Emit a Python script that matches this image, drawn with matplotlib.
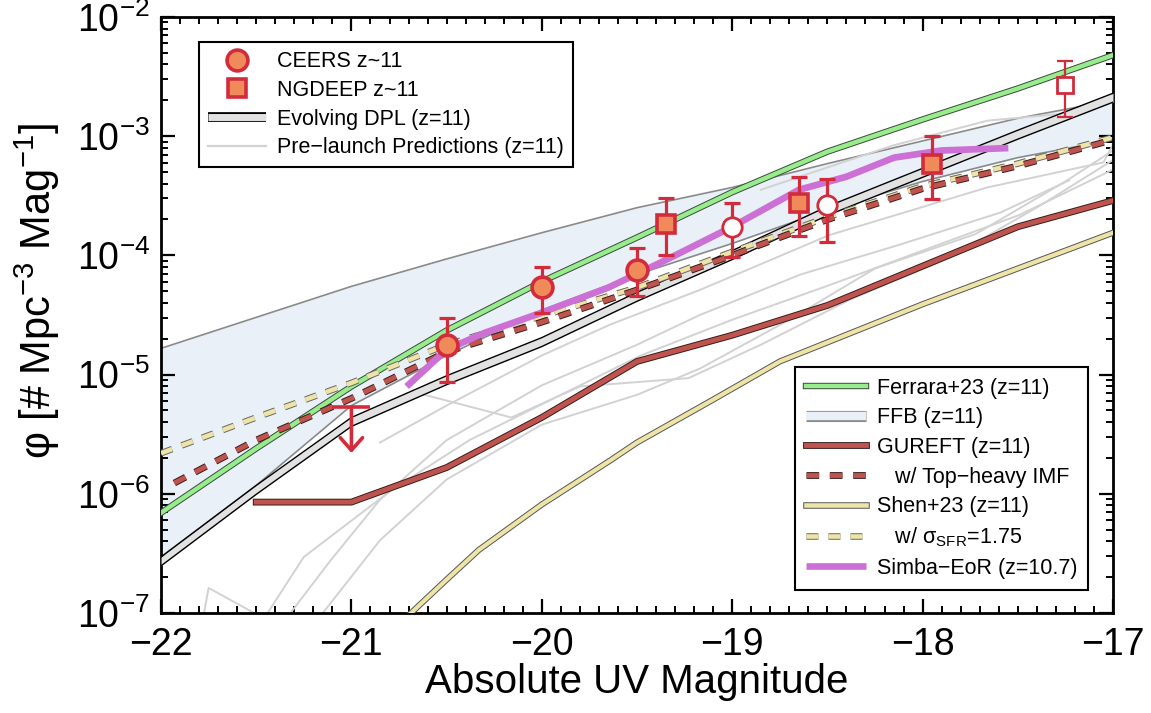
import matplotlib
matplotlib.use("Agg")
import matplotlib.pyplot as plt
import matplotlib.patheffects as pe
from matplotlib.lines import Line2D
from matplotlib.ticker import MultipleLocator, LogLocator
import numpy as np

plt.rcParams["font.family"] = ["Liberation Sans", "DejaVu Sans"]
plt.rcParams["mathtext.fontset"] = "custom"
plt.rcParams["mathtext.rm"] = "Liberation Sans"
plt.rcParams["mathtext.it"] = "Liberation Sans:italic"
plt.rcParams["mathtext.bf"] = "Liberation Sans:bold"

# ---- model curves (M_UV, log10 phi) ----
muv = [-22.0, -21.5, -21.0, -20.5, -20.0, -19.5, -19.0, -18.5, -18.0, -17.5, -17.0]

ferrara = [-6.16, -5.62, -5.10, -4.63, -4.22, -3.85, -3.47, -3.13, -2.86, -2.60, -2.32]
ffb_hi = [-4.78, -4.52, -4.26, -4.03, -3.81, -3.60, -3.43, -3.23, -3.04, -2.85, -2.70]
ffb_lo = [-6.53, -5.93, -5.26, -4.84, -4.46, -4.16, -3.90, -3.62, -3.38, -3.18, -3.03]
dpl_hi = [-6.53, -5.93, -5.36, -5.01, -4.69, -4.31, -3.96, -3.59, -3.27, -2.95, -2.64]
dpl_width = 0.075

gureft_x = [-21.5, -21.0, -20.5, -20.0, -19.5, -19.0, -18.5, -18.0, -17.5, -17.0]
gureft = [-6.07, -6.07, -5.78, -5.36, -4.89, -4.67, -4.42, -4.09, -3.76, -3.54]

gureft_th_x = [-21.93, -21.5, -21.0, -20.5, -20.0, -19.5, -19.0, -18.5, -18.0, -17.5, -17.0]
gureft_th = [-5.91, -5.55, -5.20, -4.81, -4.56, -4.29, -4.00, -3.70, -3.44, -3.25, -3.03]

shen_sig = [-5.66, -5.36, -5.07, -4.75, -4.51, -4.27, -3.97, -3.68, -3.42, -3.23, -3.01]

shen_x = [-20.7, -20.5, -20.33, -20.0, -19.64, -19.5, -19.1, -18.75, -18.5, -18.0, -17.5, -17.0]
shen = [-7.02, -6.72, -6.47, -6.09, -5.72, -5.57, -5.21, -4.89, -4.73, -4.41, -4.11, -3.81]

simba_x = [-20.71, -20.5, -20.3, -20.0, -19.65, -19.35, -19.0, -18.65, -18.4, -18.15, -17.9, -17.55]
simba = [-5.10, -4.79, -4.65, -4.48, -4.27, -4.04, -3.76, -3.45, -3.34, -3.18, -3.12, -3.10]

# pre-launch predictions (light gray)
prelaunch = [
    ([-21.78, -21.75, -21.5], [-7.05, -6.79, -7.01]),
    ([-21.44, -21.25, -20.79, -20.38, -19.90, -19.48, -19.00, -18.49, -18.00, -17.49, -17.0],
     [-7.0, -6.53, -5.97, -5.55, -5.17, -4.84, -4.54, -4.25, -3.96, -3.66, -3.28]),
    ([-21.32, -21.11, -20.85, -20.50, -20.0, -19.5, -19.17, -18.64, -18.12, -17.59, -17.23],
     [-7.0, -6.56, -6.05, -5.55, -5.09, -4.75, -4.50, -4.16, -3.91, -3.64, -3.37]),
    ([-21.15, -20.85, -20.50, -20.0, -19.5, -19.17, -18.70, -18.25, -17.72, -17.25, -17.0],
     [-7.0, -6.39, -5.88, -5.42, -5.17, -4.95, -4.54, -4.11, -3.82, -3.38, -3.12]),
    ([-20.64, -20.16, -19.80, -19.23, -18.85, -18.38, -17.86, -17.38, -17.0],
     [-5.16, -5.36, -5.10, -5.03, -4.75, -4.37, -4.02, -3.58, -3.20]),
    ([-18.85, -18.16, -17.66, -17.25],
     [-3.45, -3.08, -2.87, -2.81]),
    ([-20.85, -20.50, -20.0, -19.64, -19.17, -18.49, -17.66, -17.05, -17.0],
     [-5.57, -5.26, -4.84, -4.58, -4.29, -3.83, -3.43, -3.22, -3.07]),
]

# ---- observations ----
ceers_x = [-20.5, -20.0, -19.5]
ceers_phi = [1.77e-5, 5.43e-5, 7.55e-5]
ceers_hi = [2.98e-5, 8.0e-5, 1.15e-4]
ceers_lo = [8.7e-6, 3.29e-5, 4.56e-5]

ceers_open_x = [-19.0, -18.5]
ceers_open_phi = [1.73e-4, 2.65e-4]
ceers_open_hi = [2.75e-4, 4.37e-4]
ceers_open_lo = [9.7e-5, 1.29e-4]

ngdeep_x = [-19.35, -18.65, -17.95]
ngdeep_phi = [1.83e-4, 2.75e-4, 5.85e-4]
ngdeep_hi = [3.03e-4, 4.55e-4, 1.0e-3]
ngdeep_lo = [1.0e-4, 1.46e-4, 2.97e-4]

ngdeep_open_x = [-17.25]
ngdeep_open_phi = [2.69e-3]
ngdeep_open_hi = [4.28e-3]
ngdeep_open_lo = [1.45e-3]

ul_x = -21.0
ul_phi = 5.3e-6
ul_tip = 2.2e-6

# ---- colours ----
red = "#D22B3C"
orange = "#F08A5A"
green = "#97EC8C"
gcol = "#BF544E"
ycol = "#EEE4A6"
magenta = "#CC70D5"
ffb_fill = "#E9F0F8"


def outline(lw, dark):
    return [pe.Stroke(linewidth=lw + 1.4, foreground=dark), pe.Normal()]


fig = plt.figure(figsize=(11.51, 7.13), dpi=100)
ax = fig.add_axes([0.1399, 0.1403, 0.8271, 0.8359])
ax.set_yscale("log")

x = np.array(muv)
p = lambda a: 10 ** np.array(a)

# FFB band
ax.fill_between(x, p(ffb_lo), p(ffb_hi), color=ffb_fill, lw=0, zorder=1)
ax.plot(x, p(ffb_lo), color="#8A8A8A", lw=1.2, zorder=1.5)
ax.plot(x, p(ffb_hi), color="#8A8A8A", lw=1.2, zorder=1.5)

for px_, py_ in prelaunch:
    ax.plot(px_, p(py_), color="#D2D2D2", lw=1.4, zorder=2)

# Evolving DPL band
dpl_lo = np.array(dpl_hi) - dpl_width
ax.fill_between(x, p(dpl_lo), p(dpl_hi), color="#E2E2E2", lw=0, zorder=3)
ax.plot(x, p(dpl_hi), color="k", lw=1.0, zorder=3.1)
ax.plot(x, p(dpl_lo), color="k", lw=1.0, zorder=3.1)

ax.plot(shen_x, p(shen), color=ycol, lw=3, zorder=4,
        path_effects=outline(3, "#555555"))
ax.plot(gureft_x, p(gureft), color=gcol, lw=3.5, zorder=4,
        path_effects=outline(3.5, "#3A1A1A"))
ax.plot(x, p(ferrara), color=green, lw=3.2, zorder=5,
        path_effects=outline(3.2, "#3A4A3A"))
ax.plot(x, p(shen_sig), color=ycol, lw=3.3, dashes=(2.6, 2.2), zorder=5.5,
        path_effects=outline(3.3, "#666666"))
ax.plot(gureft_th_x, p(gureft_th), color=gcol, lw=3.5, dashes=(2.6, 2.2), zorder=5.6,
        path_effects=outline(3.5, "#3A1A1A"))
ax.plot(simba_x, p(simba), color=magenta, lw=4.8, zorder=6, solid_capstyle="butt")

# data points
eb = dict(fmt="none", ecolor=red, elinewidth=2.3, capsize=6, capthick=2.3, zorder=8)


def errs(phi, lo, hi):
    phi = np.array(phi)
    return [phi - np.array(lo), np.array(hi) - phi]


ax.errorbar(ceers_x, ceers_phi, yerr=errs(ceers_phi, ceers_lo, ceers_hi), **eb)
ax.errorbar(ceers_open_x, ceers_open_phi, yerr=errs(ceers_open_phi, ceers_open_lo, ceers_open_hi), **eb)
ax.errorbar(ngdeep_x, ngdeep_phi, yerr=errs(ngdeep_phi, ngdeep_lo, ngdeep_hi), **eb)
ax.errorbar(ngdeep_open_x, ngdeep_open_phi,
            yerr=errs(ngdeep_open_phi, ngdeep_open_lo, ngdeep_open_hi),
            fmt="none", ecolor=red, elinewidth=1.6, capsize=6, capthick=1.6, zorder=8)

ax.plot(ceers_x, ceers_phi, "o", ms=15, mfc=orange, mec=red, mew=2.6, zorder=9)
ax.plot(ceers_open_x, ceers_open_phi, "o", ms=14, mfc="white", mec=red, mew=2.0, zorder=9)
ax.plot(ngdeep_x, ngdeep_phi, "s", ms=13.5, mfc=orange, mec=red, mew=2.6, zorder=9)
ax.plot(ngdeep_open_x, ngdeep_open_phi, "s", ms=12, mfc="white", mec=red, mew=2.0, zorder=9)

# upper limit
ax.hlines(ul_phi, ul_x - 0.1, ul_x + 0.1, color=red, lw=2.6, zorder=8)
ax.annotate("", xy=(ul_x, ul_tip), xytext=(ul_x, ul_phi),
            arrowprops=dict(arrowstyle="->,head_length=0.45,head_width=0.4",
                            color=red, lw=2.6, shrinkA=0, shrinkB=0,
                            mutation_scale=20), zorder=8)

# axes
ax.set_xlim(-22, -17)
ax.set_ylim(1e-7, 1e-2)
ax.xaxis.set_major_locator(MultipleLocator(1))
ax.xaxis.set_minor_locator(MultipleLocator(0.1))
ax.yaxis.set_major_locator(LogLocator(base=10, numticks=10))
ax.yaxis.set_minor_locator(LogLocator(base=10, subs=np.arange(2, 10), numticks=20))
ax.tick_params(which="both", direction="in", top=True, right=True, labelsize=27)
ax.tick_params(which="major", length=10, width=1.6)
ax.tick_params(which="minor", length=5, width=1.4)
ax.tick_params(axis="x", pad=10)
ax.tick_params(axis="y", pad=8)
for s in ax.spines.values():
    s.set_linewidth(2.0)

ax.set_xlabel("Absolute UV Magnitude", fontsize=29, labelpad=0)
ax.set_ylabel("φ [# Mpc$^{-3}$ Mag$^{-1}$]", fontsize=30)
ax.yaxis.set_label_coords(-0.104, 0.54)

# legends
h_ceers = Line2D([], [], ls="none", marker="o", ms=15, mfc=orange, mec=red, mew=2.6)
h_ngdeep = Line2D([], [], ls="none", marker="s", ms=13, mfc=orange, mec=red, mew=2.6)
h_dpl = Line2D([], [], color="#E2E2E2", lw=5, solid_capstyle="butt",
               path_effects=[pe.Stroke(linewidth=7, foreground="k"), pe.Normal()])
h_pre = Line2D([], [], color="#D2D2D2", lw=1.6)
leg1 = ax.legend([h_ceers, h_ngdeep, h_dpl, h_pre],
                 ["CEERS z~11", "NGDEEP z~11", "Evolving DPL (z=11)", "Pre\u2212launch Predictions (z=11)"],
                 loc="upper left", bbox_to_anchor=(0.040, 0.958), borderaxespad=0,
                 fontsize=15.5, handlelength=2.7, handletextpad=0.5, labelspacing=0.36,
                 borderpad=0.42, fancybox=False, framealpha=1, edgecolor="k")
leg1.get_frame().set_linewidth(1.5)
ax.add_artist(leg1)

h_fer = Line2D([], [], color=green, lw=3.2, path_effects=outline(3.2, "#3A4A3A"))
h_ffb = Line2D([], [], color=ffb_fill, lw=6, solid_capstyle="butt",
               path_effects=[pe.Stroke(linewidth=8, foreground="#8A8A8A"), pe.Normal()])
h_gur = Line2D([], [], color=gcol, lw=3.5, path_effects=outline(3.5, "#3A1A1A"))
h_gurth = Line2D([], [], color=gcol, lw=3.5, dashes=(2.6, 2.2),
                 path_effects=outline(3.5, "#3A1A1A"))
h_shen = Line2D([], [], color=ycol, lw=3.3, path_effects=outline(3.3, "#555555"))
h_shsig = Line2D([], [], color=ycol, lw=3.3, dashes=(2.6, 2.2),
                 path_effects=outline(3.3, "#666666"))
h_simba = Line2D([], [], color=magenta, lw=4.8, solid_capstyle="butt")
leg2 = ax.legend([h_fer, h_ffb, h_gur, h_gurth, h_shen, h_shsig, h_simba],
                 ["Ferrara+23 (z=11)", "FFB (z=11)", "GUREFT (z=11)",
                  "   w/ Top\u2212heavy IMF", "Shen+23 (z=11)",
                  "   w/ σ$_{\\rm SFR}$=1.75", "Simba\u2212EoR (z=10.7)"],
                 loc="lower right", bbox_to_anchor=(0.974, 0.039), borderaxespad=0,
                 fontsize=15.5, handlelength=2.8, handletextpad=0.5, labelspacing=0.4,
                 borderpad=0.5, fancybox=False, framealpha=1, edgecolor="k")
leg2.get_frame().set_linewidth(1.5)

fig.savefig("out.png", dpi=100)
